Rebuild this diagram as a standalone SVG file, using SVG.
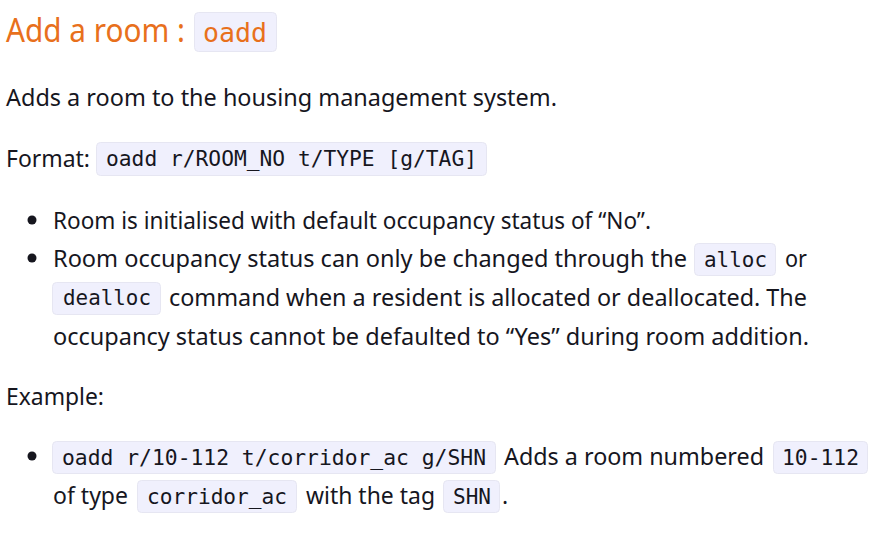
<svg xmlns="http://www.w3.org/2000/svg" width="889" height="547" viewBox="0 0 889 547">
<style>
.t{font-family:"Noto Sans","Open Sans","DejaVu Sans",sans-serif;font-size:23px;fill:#16161e}
.h{font-family:"Noto Sans","Open Sans","DejaVu Sans",sans-serif;font-size:32px;fill:#e8701c}
.c{font-family:"DejaVu Sans Mono","Liberation Mono",monospace;font-size:21px;fill:#16161e}
.ch{font-family:"DejaVu Sans Mono","Liberation Mono",monospace;font-size:27px;fill:#e8701c}
.box{fill:#f0f0fd;stroke:#e6e6f2;stroke-width:1}
.b{fill:#16161e}
</style>
<rect width="889" height="547" fill="#ffffff"/>
<g id="heading">
<text class="h" x="6" y="42" textLength="179" lengthAdjust="spacingAndGlyphs">Add a room :</text>
<rect class="box" x="194.5" y="12.5" width="82" height="39" rx="4"/>
<text class="ch" x="203" y="42" textLength="64" lengthAdjust="spacingAndGlyphs">oadd</text>
</g>
<g id="intro">
<text class="t" x="6" y="106" textLength="551" lengthAdjust="spacingAndGlyphs">Adds a room to the housing management system.</text>
</g>
<g id="format">
<text class="t" x="6" y="167" textLength="84" lengthAdjust="spacingAndGlyphs">Format:</text>
<rect class="box" x="96.5" y="142.5" width="390" height="33" rx="4"/>
<text class="c" x="106" y="166" textLength="371" lengthAdjust="spacingAndGlyphs">oadd r/ROOM_NO t/TYPE [g/TAG]</text>
</g>
<g id="notes">
<circle class="b" cx="32" cy="220" r="4.5"/>
<text class="t" x="53" y="229" textLength="598" lengthAdjust="spacingAndGlyphs">Room is initialised with default occupancy status of “No”.</text>
<circle class="b" cx="32" cy="258" r="4.5"/>
<text class="t" x="53" y="267" textLength="634" lengthAdjust="spacingAndGlyphs">Room occupancy status can only be changed through the</text>
<rect class="box" x="694.5" y="243.5" width="81" height="32" rx="4"/>
<text class="c" x="704" y="267" textLength="63" lengthAdjust="spacingAndGlyphs">alloc</text>
<text class="t" x="785" y="267" textLength="22" lengthAdjust="spacingAndGlyphs">or</text>
<rect class="box" x="52.5" y="282.5" width="108" height="32" rx="4"/>
<text class="c" x="63" y="305" textLength="88" lengthAdjust="spacingAndGlyphs">dealloc</text>
<text class="t" x="169" y="306" textLength="638" lengthAdjust="spacingAndGlyphs">command when a resident is allocated or deallocated. The</text>
<text class="t" x="53" y="345" textLength="756" lengthAdjust="spacingAndGlyphs">occupancy status cannot be defaulted to “Yes” during room addition.</text>
</g>
<g id="example-label">
<text class="t" x="6" y="405" textLength="98" lengthAdjust="spacingAndGlyphs">Example:</text>
</g>
<g id="example">
<circle class="b" cx="32" cy="456" r="4.5"/>
<rect class="box" x="52.5" y="441.5" width="443" height="32" rx="4"/>
<text class="c" x="62" y="465" textLength="424" lengthAdjust="spacingAndGlyphs">oadd r/10-112 t/corridor_ac g/SHN</text>
<text class="t" x="504" y="465" textLength="260" lengthAdjust="spacingAndGlyphs">Adds a room numbered</text>
<rect class="box" x="773.5" y="441.5" width="94" height="32" rx="4"/>
<text class="c" x="782" y="465" textLength="77" lengthAdjust="spacingAndGlyphs">10-112</text>
<text class="t" x="53" y="504" textLength="75" lengthAdjust="spacingAndGlyphs">of type</text>
<rect class="box" x="137.5" y="480.5" width="159" height="32" rx="4"/>
<text class="c" x="147" y="504" textLength="140" lengthAdjust="spacingAndGlyphs">corridor_ac</text>
<text class="t" x="306" y="504" textLength="129" lengthAdjust="spacingAndGlyphs">with the tag</text>
<rect class="box" x="443.5" y="480.5" width="56" height="32" rx="4"/>
<text class="c" x="453" y="504" textLength="38" lengthAdjust="spacingAndGlyphs">SHN</text>
<text class="t" x="502" y="504">.</text>
</g>
</svg>
